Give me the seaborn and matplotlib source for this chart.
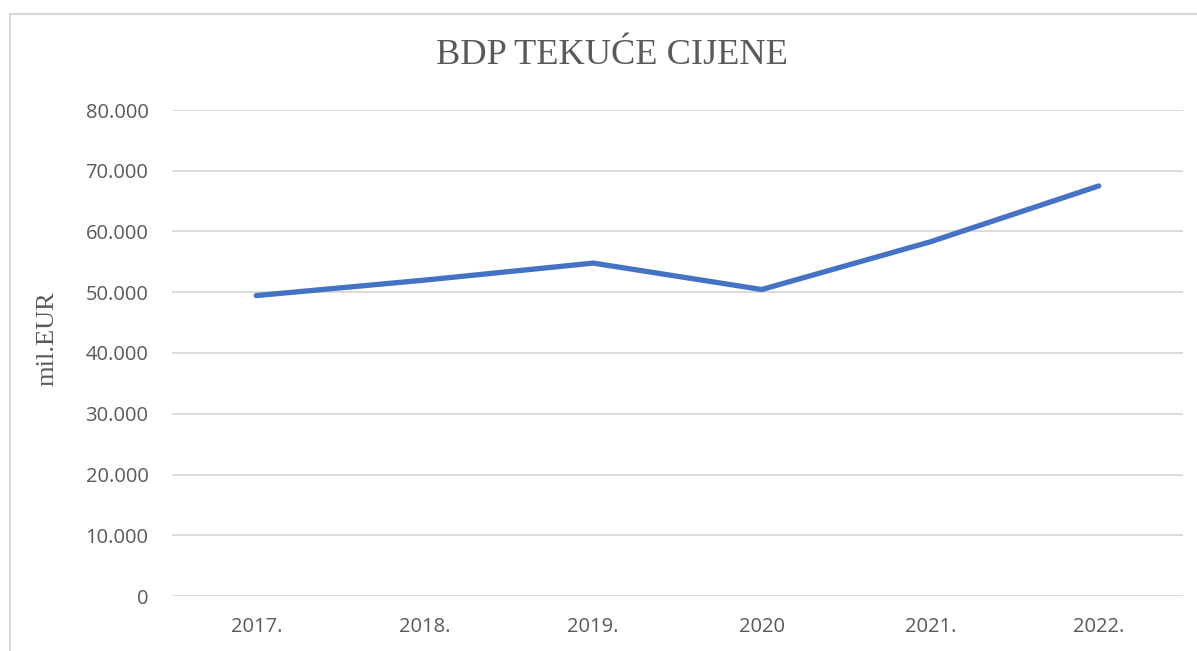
'''
BDP tekuce cijene - line chart recreation
'''
import pandas as pd
import matplotlib
matplotlib.use('Agg')
import matplotlib.pyplot as plt
from matplotlib.patches import Rectangle
from matplotlib.ticker import FuncFormatter
import seaborn as sns

years = ['2017.', '2018.', '2019.', '2020', '2021.', '2022.']
bdp = [49450, 52000, 54800, 50450, 58300, 67500]
y_ticks = [0, 10000, 20000, 30000, 40000, 50000, 60000, 70000, 80000]


def thousands(v, pos):
    '''
    formats numbers with a dot as thousands separator
    '''
    if v == 0:
        return '0'
    return f'{int(v):,}'.replace(',', '.')


def main():
    sns.set_style('white')
    plt.rcParams['font.family'] = ['Open Sans', 'DejaVu Sans']
    data = pd.DataFrame({'Godina': years, 'BDP': bdp})

    fig = plt.figure(figsize=(11.97, 6.51), dpi=100)
    ax = fig.add_axes([172 / 1197, 1 - 596 / 651,
                       (1183 - 172) / 1197, (596 - 110) / 651])
    sns.lineplot(x='Godina', y='BDP', data=data, ax=ax, color='#4472C4',
                 linewidth=3.8, solid_capstyle='round', sort=False)

    ax.set_xlim(-0.5, len(years) - 0.5)
    ax.set_ylim(0, 80000)
    ax.set_yticks(y_ticks)
    ax.yaxis.set_major_formatter(FuncFormatter(thousands))
    ax.grid(axis='y', color='#D9D9D9', linewidth=1.3)
    ax.set_axisbelow(True)
    for side in ['top', 'right', 'left', 'bottom']:
        ax.spines[side].set_visible(False)
    ax.tick_params(axis='both', length=0, labelsize=14.5,
                   labelcolor='#595959')
    ax.tick_params(axis='y', pad=17)
    ax.tick_params(axis='x', pad=15)
    ax.set_xlabel('')
    ax.set_ylabel('')
    fig.text(47 / 1197, 1 - 339 / 651, 'mil.EUR', rotation=90,
             family='Liberation Serif', fontsize=19, color='#595959',
             ha='center', va='center')
    fig.text(612 / 1197, 1 - 56 / 651, 'BDP TEKUĆE CIJENE',
             family='Liberation Serif', fontsize=26.2, color='#595959',
             ha='center', va='center')

    border = Rectangle((10 / 1197, -0.1), 1.2, 1.1 - 14 / 651,
                       transform=fig.transFigure, fill=False,
                       edgecolor='#D9D9D9', linewidth=1.5)
    fig.patches.append(border)

    fig.savefig('out.png', dpi=100)


if __name__ == '__main__':
    main()
